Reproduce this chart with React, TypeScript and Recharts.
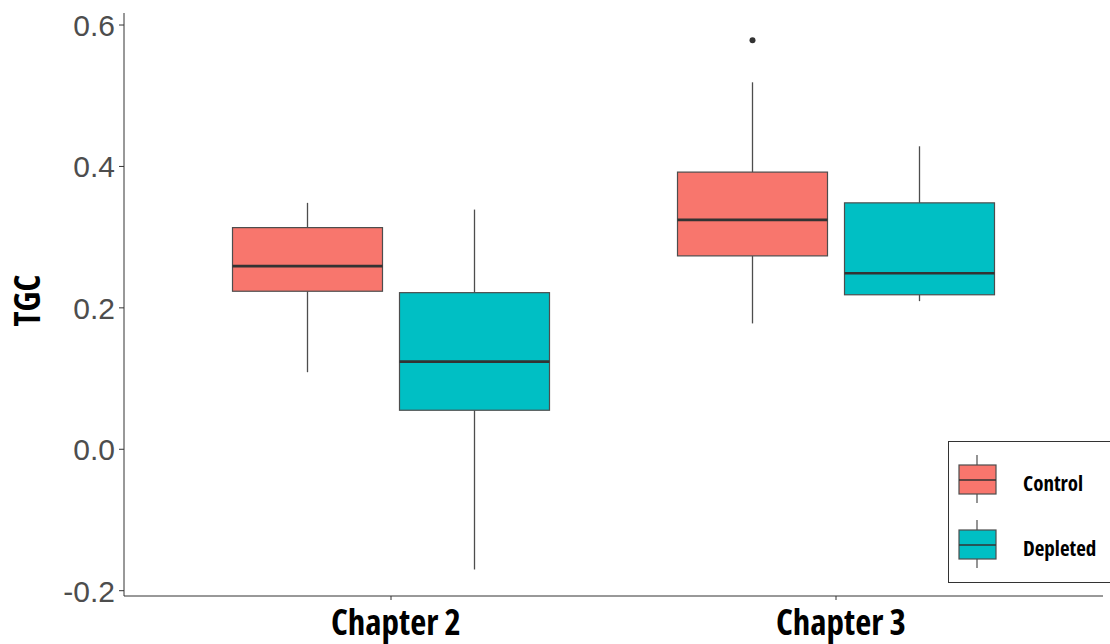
import { ComposedChart, Bar, XAxis, YAxis, Legend } from 'recharts'

const categories = ['Chapter 2', 'Chapter 3']

const controlLow = [0.109, 0.178]
const controlQ1 = [0.2235, 0.2735]
const controlMedian = [0.259, 0.3245]
const controlQ3 = [0.3135, 0.392]
const controlHigh = [0.3485, 0.519]
const controlOutliers = [[], [0.5785]]

const depletedLow = [-0.17, 0.2095]
const depletedQ1 = [0.0552, 0.2185]
const depletedMedian = [0.124, 0.249]
const depletedQ3 = [0.2215, 0.3485]
const depletedHigh = [0.339, 0.4285]
const depletedOutliers = [[], []]

const yTicks = [-0.2, 0.0, 0.2, 0.4, 0.6]

const data = categories.map((name, i) => ({
  name,
  Control: {
    low: controlLow[i], q1: controlQ1[i], median: controlMedian[i],
    q3: controlQ3[i], high: controlHigh[i], outliers: controlOutliers[i],
  },
  Depleted: {
    low: depletedLow[i], q1: depletedQ1[i], median: depletedMedian[i],
    q3: depletedQ3[i], high: depletedHigh[i], outliers: depletedOutliers[i],
  },
}))

const condensed = {
  fontFamily: "'Open Sans', 'DejaVu Sans', sans-serif",
  fontWeight: 700,
  fontStretch: 'condensed',
}

const lineColor = '#4d4d4d'

function boxShape(key: string) {
  return (props: any) => {
    const { x, y, width, height, payload } = props
    const s = payload[key]
    const top = Math.min(y, y + height)
    const h = Math.abs(height)
    const ppu = h / (s.q3 - s.q1)
    const py = (v: number) => top + (s.q3 - v) * ppu
    const cx = x + width / 2
    return (
      <g>
        <line x1={cx} x2={cx} y1={py(s.high)} y2={py(s.q3)} stroke={lineColor} strokeWidth={1.3} />
        <line x1={cx} x2={cx} y1={py(s.q1)} y2={py(s.low)} stroke={lineColor} strokeWidth={1.3} />
        <rect x={x} y={top} width={width} height={h} fill={props.fill} stroke={lineColor} strokeWidth={1.2} />
        <line x1={x} x2={x + width} y1={py(s.median)} y2={py(s.median)} stroke='#333333' strokeWidth={2.6} />
        {s.outliers.map((o: number, j: number) => (
          <circle key={j} cx={cx} cy={py(o)} r={3} fill='#333333' />
        ))}
      </g>
    )
  }
}

function YTick(props: any) {
  const { x, y, payload } = props
  return (
    <text x={x} y={y + 11} textAnchor='end' fontSize={30} fill='#4d4d4d'
      fontFamily="'Liberation Sans', Arial, sans-serif">
      {payload.value.toFixed(1)}
    </text>
  )
}

function XTick(props: any) {
  const { x, y, payload } = props
  return (
    <text x={x + 5} y={y + 33} textAnchor='middle' fontSize={35} fill='#000' style={condensed}>
      {payload.value}
    </text>
  )
}

function YLabel(props: any) {
  const { viewBox } = props
  const cy = viewBox.y + viewBox.height / 2 - 4
  return (
    <text x={40} y={cy} transform={`rotate(-90, 40, ${cy})`} textAnchor='middle'
      fontSize={35} fill='#000' style={condensed}>
      TGC
    </text>
  )
}

function LegendBox(props: any) {
  const { payload } = props
  return (
    <div style={{ width: 170, height: 142, border: '1px solid #333', boxSizing: 'border-box', background: '#fff' }}>
      <svg width={170} height={142}>
        {payload.map((entry: any, i: number) => {
          const oy = i * 65
          return (
            <g key={entry.value}>
              <line x1={28} x2={28} y1={13 + oy} y2={61 + oy} stroke={lineColor} strokeWidth={1.2} />
              <rect x={10} y={23 + oy} width={37} height={29} fill={entry.color} stroke={lineColor} strokeWidth={1.2} />
              <line x1={10} x2={47} y1={38 + oy} y2={38 + oy} stroke='#333333' strokeWidth={1.5} />
              <text x={74} y={49 + oy} fontSize={21} fill='#000' style={condensed}>{entry.value}</text>
            </g>
          )
        })}
      </svg>
    </div>
  )
}

export default function App() {
  return (
    <div style={{ position: 'absolute', left: 0, top: 0, width: 1110, height: 644, background: '#fff' }}>
      <ComposedChart width={1110} height={644} data={data} barSize={150} barGap={17}
        margin={{ top: 13, right: 7, left: 0, bottom: 0 }}>
        <XAxis dataKey='name' height={48} padding={{ left: 44.5, right: 44.5 }}
          stroke='#333333' tickSize={4} tickLine={{ stroke: '#333333' }} tick={<XTick />} />
        <YAxis width={124} type='number' domain={[-0.2075, 0.617]} ticks={yTicks} allowDataOverflow
          stroke='#333333' tickSize={5} tickMargin={4} tick={<YTick />} label={<YLabel />} />
        <Legend layout='vertical' align='center' verticalAlign='middle' content={<LegendBox />}
          wrapperStyle={{ left: 948, top: 441, width: 170, height: 142 }} />
        <Bar dataKey={(d: any) => [d.Control.q1, d.Control.q3]} name='Control' fill='#F8766D'
          shape={boxShape('Control')} isAnimationActive={false} />
        <Bar dataKey={(d: any) => [d.Depleted.q1, d.Depleted.q3]} name='Depleted' fill='#00BFC4'
          shape={boxShape('Depleted')} isAnimationActive={false} />
      </ComposedChart>
    </div>
  )
}
